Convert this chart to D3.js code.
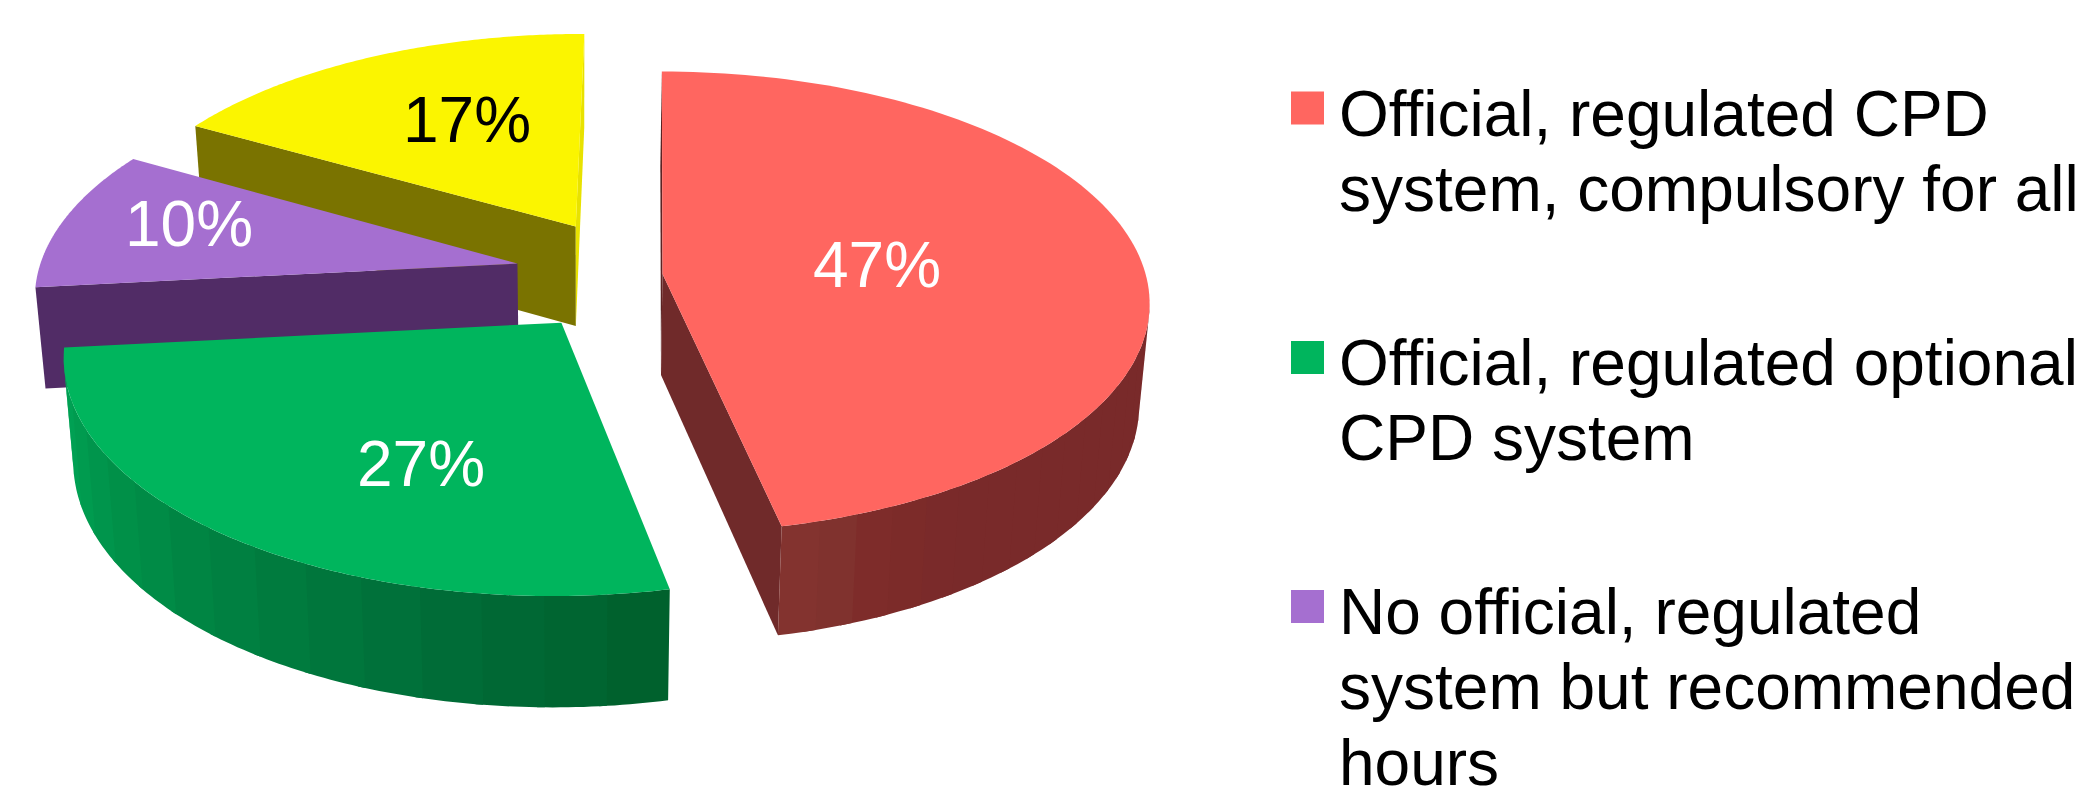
<!DOCTYPE html>
<html>
<head>
<meta charset="utf-8">
<script src="https://cdn.jsdelivr.net/npm/d3@7"></script>
<style>
  body { margin: 0; background: #fff; }
  text { font-family: "Liberation Sans", Arial, sans-serif; font-size: 64px; }
</style>
</head>
<body>
<svg id="chart" width="2088" height="787"></svg>
<script>
//### DATA ###
const shares = [ 47, 27, 10, 17 ];
const shareLabels = [ '47%', '27%', '10%', '17%' ];
const legendLines = [
  [ 'Official, regulated CPD', 'system, compulsory for all' ],
  [ 'Official, regulated optional', 'CPD system' ],
  [ 'No official, regulated', 'system but recommended', 'hours' ]
];

//### STYLES ###
const topColors = [ '#ff6660', '#00b55d', '#a56fd0', '#fbf500' ];
const labelColors = [ '#fff', '#fff', '#fff', '#000' ];
const startWallColors = [ '#5c2222', '#00602c', '#512c66', '#7a7300' ];
const endWallColors = [ '#702a2a', '#00a556', '#4a285e', '#e8e200' ];
//>>> Shading of the round wall, 0 = start of the slice, 1 = end of it:
const rimDomains = [
  [ 0, 0.88, 0.93, 0.97, 1 ],
  [ 0, 0.2, 0.45, 0.7, 0.85, 1 ],
  [ 0, 1 ],
  [ 0, 1 ]
];
const rimRanges = [
  [ '#782a2a', '#792a2a', '#7e2b29', '#80332f', '#85332f' ],
  [ '#005f2b', '#006a36', '#007c3f', '#009048', '#009c50', '#00a85a' ],
  [ '#512c66', '#512c66' ],
  [ '#7a7300', '#7a7300' ]
];
const rimBands = [ 3, 8, 8, 8 ];

//### LAYOUT ###
// camera of the 3D pie: plane (u, v) -> screen
const cam = { a: 480.293, b: 37.386, x0: 662.519, c: -16.139, d: 226.554, y0: 273.898, p: 0.006, q: -0.1223 };
const pieTurn = 0.0761;
// how far each slice is pulled out on the plane, in radii
const explode = [ [ 0, 0 ], [ -0.2204, 0.194 ], [ -0.2988, -0.067 ], [ -0.1678, -0.2267 ] ];
// height of the pie on screen
const thick = { base: 101, slope: 0.032, atY: 273, vanishX: 580, lean: 0.0185 };
const labelX = [ 877, 421, 189, 467 ];
const labelY = [ 287, 486, 246, 142 ];
const legendX = 1291, swatch = 33, legendTextX = 1339, lineGap = 75.5;
const legendTop = [ 91.5, 341, 590 ];
const legendBase = [ 135.5, 384.5, 633.5 ];

const svg = d3.select( '#chart' );

const project = ( u, v ) => {
  const w = 1 + cam.p * u + cam.q * v;
  return [ cam.x0 + ( cam.a * u + cam.b * v ) / w, cam.y0 + ( cam.c * u + cam.d * v ) / w ];
};
const extrude = ( [ x, y ] ) => [
  x + ( thick.vanishX - x ) * thick.lean,
  y + thick.base + thick.slope * ( y - thick.atY )
];
const line = d3.line();
const closed = pts => line( pts ) + 'Z';

const arcs = d3.pie().sort( null ).value( d => d )( shares );

const slices = arcs.map( ( d, i ) => {
  const [ eu, ev ] = explode[ i ];
  const a0 = d.startAngle + pieTurn, a1 = d.endAngle + pieTurn;
  const rim = d3.range( 0, 1.0001, 1 / 120 ).map( t => {
    const th = a0 + ( a1 - a0 ) * t;
    return project( eu + Math.sin( th ), ev - Math.cos( th ) );
  } );
  return { i, apex: project( eu, ev ), rim };
} );

// back slices first so the nearer ones cover them
const order = [ 3, 2, 1, 0 ];

order.forEach( i => {
  const s = slices[ i ];
  const g = svg.append( 'g' ).attr( 'class', 'slice' );
  const rimColor = d3.scaleLinear().domain( rimDomains[ i ] ).range( rimRanges[ i ] );

  const wall = ( pts, color ) => g.append( 'path' )
    .attr( 'd', closed( [ ...pts, ...pts.map( extrude ).reverse() ] ) )
    .attr( 'fill', color );

  //>>> Flat walls, only the ones that face the viewer:
  const first = s.rim[ 0 ], last = s.rim[ s.rim.length - 1 ];
  if ( first[ 0 ] < s.apex[ 0 ] ) wall( [ s.apex, first ], startWallColors[ i ] );
  if ( s.apex[ 0 ] < last[ 0 ] ) wall( [ last, s.apex ], endWallColors[ i ] );

  //>>> Round wall in bands, each one runs a step under the next so no seam shows.
  //--- A rim point faces the viewer while the rim runs to the left:
  const band = rimBands[ i ];
  const n = s.rim.length - 1;
  for ( let k = 0; k < n; k += band ) {
    const pts = [];
    for ( let j = k; j <= Math.min( n, k + band + 1 ); j++ ) {
      const goesLeft = ( j < n && s.rim[ j + 1 ][ 0 ] < s.rim[ j ][ 0 ] ) || ( j > 0 && s.rim[ j ][ 0 ] < s.rim[ j - 1 ][ 0 ] );
      if ( goesLeft ) pts.push( s.rim[ j ] );
    }
    if ( pts.length > 1 ) wall( pts, rimColor( ( k + band / 2 ) / n ) );
  }

  //>>> Top face:
  g.append( 'path' )
    .attr( 'd', closed( [ s.apex, ...s.rim ] ) )
    .attr( 'fill', topColors[ i ] );
} );

//### SHARE LABELS ###
svg.selectAll( '.share' )
  .data( shareLabels )
  .enter().append( 'text' )
  .attr( 'class', 'share' )
  .attr( 'x', ( d, i ) => labelX[ i ] )
  .attr( 'y', ( d, i ) => labelY[ i ] )
  .attr( 'text-anchor', 'middle' )
  .attr( 'fill', ( d, i ) => labelColors[ i ] )
  .text( d => d );

//### LEGEND ###
const legend = svg.selectAll( '.legend' )
  .data( legendLines )
  .enter().append( 'g' )
  .attr( 'class', 'legend' );

legend.append( 'rect' )
  .attr( 'x', legendX )
  .attr( 'y', ( d, i ) => legendTop[ i ] )
  .attr( 'width', swatch )
  .attr( 'height', swatch )
  .attr( 'fill', ( d, i ) => topColors[ i ] );

legend.each( function ( lines, i ) {
  d3.select( this ).selectAll( 'text' )
    .data( lines )
    .enter().append( 'text' )
    .attr( 'x', legendTextX )
    .attr( 'y', ( d, k ) => legendBase[ i ] + k * lineGap )
    .attr( 'fill', '#000' )
    .text( d => d );
} );
</script>
</body>
</html>
